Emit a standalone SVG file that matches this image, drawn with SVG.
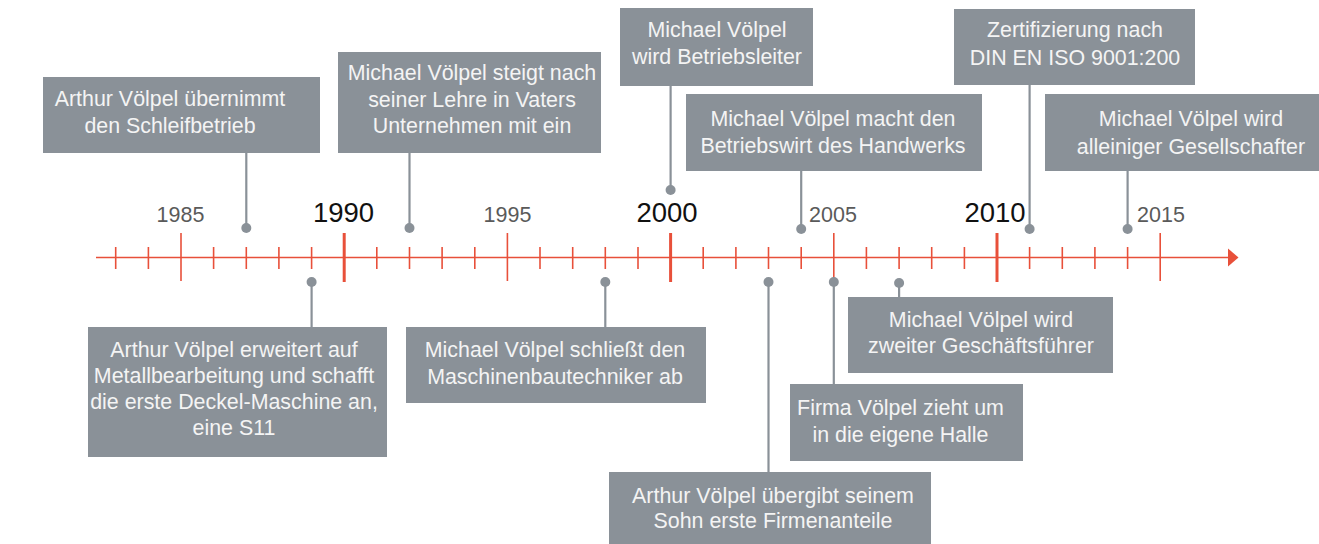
<svg xmlns="http://www.w3.org/2000/svg" width="1319" height="544" viewBox="0 0 1319 544">
<defs>
<style>
.box{fill:#8A9198}
.bt{font-family:"Liberation Sans",Arial,sans-serif;font-size:21.4px;fill:#F4F4F4;text-anchor:middle}
.yr{font-family:"Liberation Sans",Arial,sans-serif;text-anchor:middle}
.y5{font-size:21.5px;fill:#5A5A5A}
.y10{font-size:27.5px;fill:#111111}
.ax{stroke:#E8503A;fill:none}
.t1{stroke-width:1.6}
.t2{stroke-width:3}
.con{stroke:#8A9198;stroke-width:2.2;fill:none}
.dot{fill:#8A9198}
</style>
</defs>
<rect width="1319" height="544" fill="#FFFFFF"/>
<g id="axis">
<line class="ax t1" x1="96" y1="257.5" x2="1230" y2="257.5"/>
<polygon points="1228,248.5 1238.5,257.5 1228,266.5" fill="#E8503A"/>
<g class="ax t1">
<line x1="115.7" y1="247" x2="115.7" y2="269"/>
<line x1="148.4" y1="247" x2="148.4" y2="269"/>
<line x1="181" y1="233" x2="181" y2="281"/>
<line x1="213.6" y1="247" x2="213.6" y2="269"/>
<line x1="246.3" y1="247" x2="246.3" y2="269"/>
<line x1="278.9" y1="247" x2="278.9" y2="269"/>
<line x1="311.6" y1="247" x2="311.6" y2="269"/>
<line x1="376.8" y1="247" x2="376.8" y2="269"/>
<line x1="409.5" y1="247" x2="409.5" y2="269"/>
<line x1="442.1" y1="247" x2="442.1" y2="269"/>
<line x1="474.8" y1="247" x2="474.8" y2="269"/>
<line x1="507.4" y1="233" x2="507.4" y2="281"/>
<line x1="540" y1="247" x2="540" y2="269"/>
<line x1="572.7" y1="247" x2="572.7" y2="269"/>
<line x1="605.3" y1="247" x2="605.3" y2="269"/>
<line x1="638" y1="247" x2="638" y2="269"/>
<line x1="703.2" y1="247" x2="703.2" y2="269"/>
<line x1="735.9" y1="247" x2="735.9" y2="269"/>
<line x1="768.5" y1="247" x2="768.5" y2="269"/>
<line x1="801.2" y1="247" x2="801.2" y2="269"/>
<line x1="833.8" y1="233" x2="833.8" y2="281"/>
<line x1="866.4" y1="247" x2="866.4" y2="269"/>
<line x1="899.1" y1="247" x2="899.1" y2="269"/>
<line x1="931.7" y1="247" x2="931.7" y2="269"/>
<line x1="964.4" y1="247" x2="964.4" y2="269"/>
<line x1="1029.6" y1="247" x2="1029.6" y2="269"/>
<line x1="1062.3" y1="247" x2="1062.3" y2="269"/>
<line x1="1094.9" y1="247" x2="1094.9" y2="269"/>
<line x1="1127.6" y1="247" x2="1127.6" y2="269"/>
<line x1="1160.2" y1="233" x2="1160.2" y2="281"/>
</g>
<g class="ax t2">
<line x1="344.2" y1="233" x2="344.2" y2="282"/>
<line x1="670.6" y1="233" x2="670.6" y2="282"/>
<line x1="997" y1="233" x2="997" y2="282"/>
</g>
<text class="yr y5" x="180.5" y="222">1985</text>
<text class="yr y10" x="343.5" y="222">1990</text>
<text class="yr y5" x="507.5" y="222">1995</text>
<text class="yr y10" x="667" y="222">2000</text>
<text class="yr y5" x="833" y="222">2005</text>
<text class="yr y10" x="995" y="222">2010</text>
<text class="yr y5" x="1161" y="222">2015</text>
</g>
<g id="connectors">
<line class="con" x1="246.3" y1="153" x2="246.3" y2="228"/><circle class="dot" cx="246.3" cy="228" r="5"/>
<line class="con" x1="409.5" y1="153" x2="409.5" y2="228"/><circle class="dot" cx="409.5" cy="228" r="5"/>
<line class="con" x1="670.6" y1="86" x2="670.6" y2="190"/><circle class="dot" cx="670.6" cy="190" r="5"/>
<line class="con" x1="801.2" y1="171" x2="801.2" y2="229"/><circle class="dot" cx="801.2" cy="229" r="5"/>
<line class="con" x1="1029.6" y1="85" x2="1029.6" y2="229"/><circle class="dot" cx="1029.6" cy="229" r="5"/>
<line class="con" x1="1127.6" y1="171" x2="1127.6" y2="229"/><circle class="dot" cx="1127.6" cy="229" r="5"/>
<line class="con" x1="311.6" y1="282" x2="311.6" y2="327"/><circle class="dot" cx="311.6" cy="282" r="5"/>
<line class="con" x1="605.3" y1="282" x2="605.3" y2="327"/><circle class="dot" cx="605.3" cy="282" r="5"/>
<line class="con" x1="768.5" y1="282" x2="768.5" y2="472"/><circle class="dot" cx="768.5" cy="282" r="5"/>
<line class="con" x1="833.8" y1="282" x2="833.8" y2="384"/><circle class="dot" cx="833.8" cy="282" r="5"/>
<line class="con" x1="899.1" y1="283" x2="899.1" y2="297"/><circle class="dot" cx="899.1" cy="283" r="5"/>
</g>
<g id="e1987"><rect class="box" x="43" y="77" width="277" height="76"/>
<text class="bt" x="170" y="106">Arthur Völpel übernimmt</text><text class="bt" x="170" y="133">den Schleifbetrieb</text></g>
<g id="e1992"><rect class="box" x="338" y="52" width="263" height="101"/>
<text class="bt" x="472" y="80">Michael Völpel steigt nach</text><text class="bt" x="472" y="107">seiner Lehre in Vaters</text><text class="bt" x="472" y="133">Unternehmen mit ein</text></g>
<g id="e2000"><rect class="box" x="620" y="8" width="193" height="78"/>
<text class="bt" x="717" y="37">Michael Völpel</text><text class="bt" x="717" y="64">wird Betriebsleiter</text></g>
<g id="e2004"><rect class="box" x="686" y="94" width="296" height="77"/>
<text class="bt" x="833" y="126">Michael Völpel macht den</text><text class="bt" x="833" y="153">Betriebswirt des Handwerks</text></g>
<g id="e2011"><rect class="box" x="954" y="9" width="241" height="76"/>
<text class="bt" x="1075" y="37">Zertifizierung nach</text><text class="bt" x="1075" y="65">DIN EN ISO 9001:200</text></g>
<g id="e2014"><rect class="box" x="1045" y="94" width="280" height="77"/>
<text class="bt" x="1191" y="126">Michael Völpel wird</text><text class="bt" x="1191" y="154">alleiniger Gesellschafter</text></g>
<g id="e1989"><rect class="box" x="88" y="327" width="299" height="130"/>
<text class="bt" x="234" y="357">Arthur Völpel erweitert auf</text><text class="bt" x="234" y="383">Metallbearbeitung und schafft</text><text class="bt" x="234" y="409">die erste Deckel-Maschine an,</text><text class="bt" x="234" y="435">eine S11</text></g>
<g id="e1998"><rect class="box" x="406" y="327" width="300" height="76"/>
<text class="bt" x="555" y="357">Michael Völpel schließt den</text><text class="bt" x="555" y="384">Maschinenbautechniker ab</text></g>
<g id="e2003"><rect class="box" x="609" y="472" width="322" height="72"/>
<text class="bt" x="773" y="503">Arthur Völpel übergibt seinem</text><text class="bt" x="773" y="528">Sohn erste Firmenanteile</text></g>
<g id="e2005"><rect class="box" x="790" y="384" width="233" height="77"/>
<text class="bt" x="900.5" y="415">Firma Völpel zieht um</text><text class="bt" x="900.5" y="442">in die eigene Halle</text></g>
<g id="e2007"><rect class="box" x="848" y="297" width="265" height="76"/>
<text class="bt" x="981" y="327">Michael Völpel wird</text><text class="bt" x="981" y="353">zweiter Geschäftsführer</text></g>
</svg>
